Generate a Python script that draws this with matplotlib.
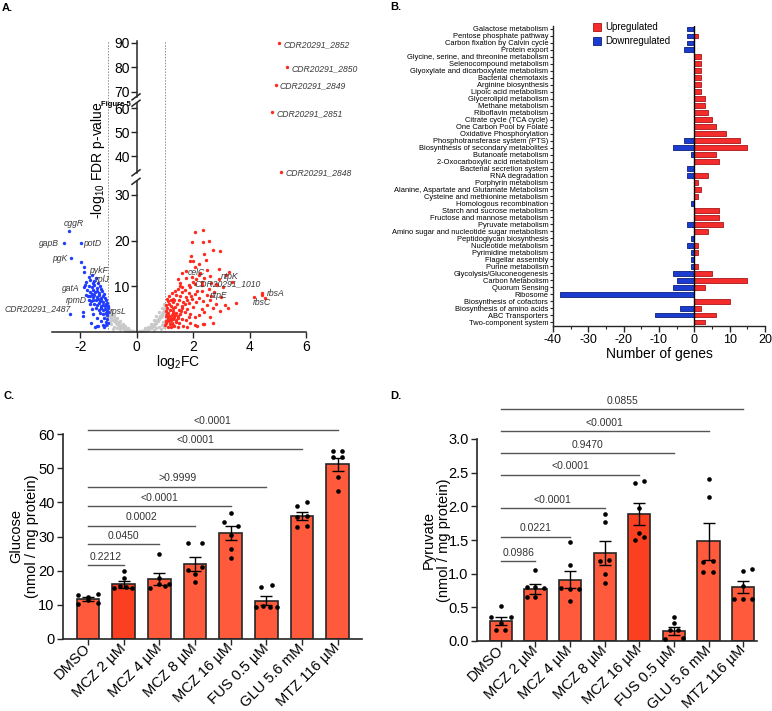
import matplotlib
matplotlib.use('Agg')
import matplotlib.pyplot as plt
from matplotlib import font_manager
from matplotlib.lines import Line2D
from matplotlib.patches import Rectangle
from matplotlib.ticker import MultipleLocator
import numpy as np

# ---------------- DATA ----------------
# Panel A: volcano plot (log2FC, -log10 FDR)
gray_pts = [(-1.08,5.8),(-1.05,4.9),(-1.0,5.5),(-0.98,4.2),(-0.95,3.6),(-0.93,4.8),(-0.9,3.1),(-0.88,4.0),
            (-0.85,2.7),(-0.83,3.5),(-0.8,2.4),(-0.78,3.0),(-0.75,2.0),(-0.72,2.6),(-0.7,1.7),(-0.68,2.2),
            (-0.65,1.5),(-0.62,1.9),(-0.6,1.2),(-0.57,1.5),(-0.55,1.0),(-0.52,1.3),(-0.5,0.8),(-0.47,1.0),
            (-0.45,0.6),(-0.42,0.8),(-0.4,0.5),(-0.37,0.6),(-0.35,0.4),(-0.32,0.45),(-0.3,0.3),(-0.27,0.35),
            (-0.25,0.2),(-0.22,0.25),(-0.2,0.15),(-0.17,0.18),(-0.15,0.1),(-0.12,0.12),(-0.1,0.06),(-0.07,0.08),
            (-0.05,0.03),(-0.02,0.04),(0.0,0.02),(0.03,0.04),(0.05,0.05),(0.08,0.1),(0.1,0.08),(0.13,0.15),
            (0.15,0.12),(0.18,0.22),(0.2,0.18),(0.23,0.3),(0.25,0.25),(0.28,0.4),(0.3,0.35),(0.33,0.5),
            (0.35,0.45),(0.38,0.65),(0.4,0.6),(0.43,0.85),(0.45,0.75),(0.48,1.05),(0.5,0.95),(0.53,1.3),
            (0.55,1.15),(0.58,1.55),(0.6,1.4),(0.63,1.85),(0.65,1.7),(0.68,2.2),(0.7,2.0),(0.73,2.6),
            (0.75,2.4),(0.78,3.0),(0.8,2.8),(0.83,3.4),(0.85,3.2),(0.88,3.9),(0.9,3.6),(0.93,4.4),
            (0.95,4.1),(0.98,5.0),(1.0,4.6),(1.02,5.6),(0.97,6.2),(0.9,5.3),(0.8,4.4),(0.7,3.5),
            (0.6,2.6),(0.5,1.8),(0.4,1.2),(0.3,0.8),(-0.3,0.9),(-0.4,1.3),(-0.5,1.8),(-0.6,2.4),
            (-0.7,3.0),(-0.8,3.8),(-0.9,4.5),(-1.0,6.3),(0.6,0.5),(0.8,1.0),(0.9,1.5),(0.95,2.2),
            (-0.6,0.6),(-0.8,1.2),(-0.9,1.8),(-0.95,2.5),(0.85,0.6),(0.7,0.8),(-0.7,0.9),(-0.85,0.7),
            (-1.1,3.4),(-1.12,4.1),(-1.06,2.9),(1.04,3.1),(1.01,2.4),(0.96,1.1)]

down_pts = [(-2.41,22.2),(-2.59,19.4),(-1.99,19.4),(-2.31,16.1),(-1.99,15.4),(-1.87,14.2),(-1.85,13.2),
            (-1.64,11.4),(-1.88,9.9),(-1.72,7.8),(-2.35,3.9),(-1.02,4.4),(-1.9,4.3),(-1.89,3.4),
            (-1.48,1.2),(-1.42,1.4),(-1.37,1.3),(-1.2,1.5),(-1.15,1.2),(-1.08,1.6),(-1.62,2.0),
            (-1.70,12.1),(-1.58,12.4),(-1.45,11.9),(-1.78,11.0),(-1.55,10.8),(-1.50,11.2),(-1.38,10.7),
            (-1.82,10.2),(-1.70,10.1),(-1.60,9.8),(-1.52,10.3),(-1.42,9.7),(-1.30,10.0),(-1.25,9.4),
            (-1.75,9.1),(-1.65,8.8),(-1.55,9.2),(-1.48,8.7),(-1.40,9.0),(-1.32,8.6),(-1.22,8.9),(-1.15,8.3),
            (-1.80,8.2),(-1.66,7.9),(-1.60,8.4),(-1.55,7.7),(-1.50,8.1),(-1.42,7.6),(-1.35,8.0),(-1.28,7.5),
            (-1.20,7.9),(-1.12,7.4),(-1.68,7.0),(-1.62,6.8),(-1.55,7.1),(-1.45,6.9),(-1.38,7.2),(-1.30,6.7),
            (-1.25,7.0),(-1.18,6.6),(-1.10,6.9),(-1.05,6.4),(-1.65,6.1),(-1.50,6.2),(-1.40,5.9),(-1.33,6.3),
            (-1.27,5.8),(-1.20,6.0),(-1.13,5.7),(-1.08,6.1),(-1.03,5.6),(-1.60,5.1),(-1.45,5.3),(-1.35,4.9),
            (-1.25,5.2),(-1.18,4.8),(-1.12,5.0),(-1.06,4.7),(-1.02,5.2),(-1.55,4.0),(-1.30,4.2),(-1.20,3.9),
            (-1.10,4.1),(-1.04,3.7),(-1.40,3.1),(-1.15,3.0),(-1.05,2.8),(-1.10,2.2),(-1.03,1.9),(-1.28,2.5)]

up_pts = [(2.08,21.9),(2.34,22.3),(1.95,19.8),(2.34,19.6),(2.57,20.0),(2.69,17.9),(2.94,17.8),(1.92,16.6),
          (1.88,15.6),(1.98,15.5),(2.40,17.1),(2.46,15.8),(2.20,14.8),(2.05,14.2),(1.75,13.3),(1.62,13.0),
          (2.25,13.0),(2.50,13.5),(2.90,13.7),(3.28,13.2),(3.15,12.5),(2.60,12.2),(2.40,11.8),(2.10,11.5),
          (2.00,11.0),(2.90,11.5),(3.38,11.0),(2.80,10.5),(3.07,9.9),(2.30,10.2),(1.85,10.4),(1.75,11.8),
          (1.55,10.8),(1.48,11.5),(2.50,8.0),(4.45,8.6),(4.45,8.1),(4.17,7.6),(4.53,7.4),(3.52,6.4),
          (3.13,5.9),(2.48,5.9),(1.90,9.8),(1.70,9.3),(1.45,9.5),(1.35,9.0),(1.60,8.8),(1.85,8.5),
          (2.15,8.9),(2.65,7.8),(3.00,7.6),(2.20,7.5),(1.95,7.2),(1.75,7.6),(1.55,7.9),(1.40,8.2),
          (1.25,8.5),(1.15,7.8),(1.30,7.3),(1.50,7.0),(1.65,6.6),(1.85,6.3),(2.10,6.5),(2.70,5.3),
          (2.30,5.0),(2.00,5.5),(1.80,5.0),(1.60,5.8),(1.42,6.2),(1.28,6.5),(1.12,6.8),(1.05,6.0),
          (1.20,5.8),(1.35,5.4),(1.50,4.8),(1.70,4.4),(1.90,4.0),(2.20,3.8),(2.60,3.3),(1.08,5.2),
          (1.18,4.9),(1.30,4.6),(1.40,4.2),(1.55,3.9),(1.25,3.8),(1.12,4.2),(1.03,4.5),(1.03,3.5),
          (1.10,3.2),(1.20,3.0),(1.32,3.3),(1.45,3.0),(1.60,2.8),(1.75,2.6),(1.05,2.5),(1.15,2.3),
          (1.25,2.0),(1.38,2.2),(1.50,1.9),(1.02,1.5),(1.10,1.2),(1.20,1.0),(1.32,1.4),(1.45,1.1),
          (1.65,1.4),(1.80,1.2),(2.05,1.5),(2.15,1.3),(2.35,1.7),(2.40,1.8),(1.90,2.0),(2.70,2.0),
          (1.08,7.3),(1.14,6.2),(1.22,7.0),(1.27,5.3),(1.34,6.9),(1.06,3.9),(1.16,3.6),(1.28,4.2),
          (1.36,3.8),(1.12,2.8),(1.22,2.6),(1.30,2.9),(1.04,2.0),(1.18,1.7),(1.27,1.5),(1.40,2.6),
          (1.48,3.5),(1.58,4.5),(1.62,5.3),(1.72,6.1),(1.78,7.0),(1.92,7.9),(2.05,8.3),(2.30,9.0),
          (2.55,9.5),(2.75,8.7),(2.35,6.8),(2.60,6.9),(2.80,6.2),(2.95,4.5),(2.40,4.3),(2.05,3.2),
          (1.85,3.3),(3.25,5.2),(2.85,10.2),(2.62,10.8),(2.20,12.5),(1.95,12.0),(1.62,9.8),(1.52,10.0),
          (2.08,10.6),(2.30,11.0)]

top_genes = ['CDR20291_2852', 'CDR20291_2850', 'CDR20291_2849', 'CDR20291_2851', 'CDR20291_2848']
top_fc = [5.05, 5.34, 4.92, 4.79, 5.12]
top_p = [89.8, 80.0, 72.9, 58.3, 33.4]

# labelled genes in the lower part: (name, log2FC, -log10 p, dx px, dy px, ha)
gene_labels = [('cggR', -2.41, 22.2, -5, 7, 'left'), ('gapB', -2.59, 19.4, -5, 0, 'right'),
               ('potD', -1.99, 19.4, 3, 0, 'left'), ('pgK', -2.31, 16.1, -4, 0, 'right'),
               ('pykF', -1.85, 13.2, 5, 1, 'left'), ('rplJ', -1.64, 11.4, 5, 0, 'left'),
               ('gatA', -1.88, 9.9, -4, -2, 'right'), ('rpmD', -1.72, 7.8, -1, -4, 'right'),
               ('CDR20291_2487', -2.35, 3.9, 0, 5, 'right'), ('rpsL', -1.02, 4.4, 2, 0, 'left'),
               ('celC', 1.75, 13.3, 2, -1, 'left'), ('ntpK', 2.90, 13.7, 2, -7, 'left'),
               ('CDR20291_1010', 2.00, 11.0, 1, -2, 'left'), ('ntpE', 2.50, 8.0, 3, 0, 'left'),
               ('rbsA', 4.45, 8.6, 5, -1, 'left'), ('rbsC', 4.17, 7.6, -1, -5, 'left')]

# Panel B: KEGG pathways
pathways = ['Galactose metabolism', 'Pentose phosphate pathway', 'Carbon fixation by Calvin cycle',
            'Protein export', 'Glycine, serine, and threonine metabolism', 'Selenocompound metabolism',
            'Glyoxylate and dicarboxylate metabolism', 'Bacterial chemotaxis', 'Arginine biosynthesis',
            'Lipoic acid metabolism', 'Glycerolipid metabolism', 'Methane metabolism',
            'Riboflavin metabolism', 'Citrate cycle (TCA cycle)', 'One Carbon Pool by Folate',
            'Oxidative Phosphorylation', 'Phosphotransferase system (PTS)',
            'Biosynthesis of secondary metabolites', 'Butanoate metabolism',
            '2-Oxocarboxylic acid metabolism', 'Bacterial secretion system', 'RNA degradation',
            'Porphyrin metabolism', 'Alanine, Aspartate and Glutamate Metabolism',
            'Cysteine and methionine metabolism', 'Homologous recombination',
            'Starch and sucrose metabolism', 'Fructose and mannose metabolism', 'Pyruvate metabolism',
            'Amino sugar and nucleotide sugar metabolism', 'Peptidoglycan biosynthesis',
            'Nucleotide metabolism', 'Pyrimidine metabolism', 'Flagellar assembly', 'Purine metabolism',
            'Glycolysis/Gluconeogenesis', 'Carbon Metabolism', 'Quorum Sensing', 'Ribosome',
            'Biosynthesis of cofactors', 'Biosynthesis of amino acids', 'ABC Transporters',
            'Two-component system']
up_genes = [0, 1, 0, 0, 2, 2, 2, 2, 2, 2, 3, 3, 4, 5, 6, 9, 13, 15, 6, 7, 0, 4, 1, 2, 1, 0,
            7, 7, 8, 4, 0, 1, 1, 0, 1, 5, 15, 3, 0, 10, 2, 6, 3]
down_genes = [-2, -2, -2, -3, 0, 0, 0, 0, 0, 0, 0, 0, 0, 0, 0, 0, -3, -6, -1, 0, -2, -2, 0, 0, 0, -1,
              0, 0, -2, 0, -1, -2, -1, -1, -1, -6, -5, -6, -38, 0, -4, -11, 0]

# Panels C & D
treatments = ['DMSO', 'MCZ 2 µM', 'MCZ 4 µM', 'MCZ 8 µM', 'MCZ 16 µM', 'FUS 0.5 µM', 'GLU 5.6 mM', 'MTZ 116 µM']
glucose_mean = [11.7, 16.0, 17.5, 21.9, 31.0, 11.2, 35.9, 51.1]
glucose_sem = [0.5, 1.0, 1.8, 2.0, 2.0, 1.3, 1.2, 1.8]
glucose_pts = [[13.0, 12.3, 13.3, 10.2, 11.4, 10.6],
               [19.9, 18.0, 14.9, 15.4, 15.2, 14.9],
               [24.8, 17.9, 14.8, 16.0, 15.5, 16.1],
               [28.0, 28.0, 21.0, 20.1, 18.9, 16.8],
               [36.8, 34.2, 33.2, 30.5, 26.2, 23.6],
               [15.3, 15.7, 9.3, 9.7, 9.5, 9.5],
               [38.9, 40.0, 35.7, 35.9, 32.7, 33.0],
               [55.1, 55.1, 53.2, 53.2, 47.3, 43.4]]
glucose_p = ['0.2212', '0.0450', '0.0002', '<0.0001', '>0.9999', '<0.0001', '<0.0001']
glucose_bracket_y = [21.6, 27.7, 33.2, 38.8, 44.6, 55.7, 61.2]

pyruvate_mean = [0.30, 0.77, 0.91, 1.31, 1.89, 0.15, 1.48, 0.80]
pyruvate_sem = [0.06, 0.07, 0.13, 0.18, 0.16, 0.06, 0.27, 0.09]
pyruvate_pts = [[0.52, 0.36, 0.35, 0.26, 0.17, 0.16],
                [1.05, 0.80, 0.80, 0.79, 0.66, 0.66],
                [1.47, 1.13, 0.78, 0.77, 0.77, 0.59],
                [1.89, 1.77, 1.19, 1.20, 0.99, 0.86],
                [2.34, 2.38, 1.97, 1.60, 1.50, 1.54],
                [0.35, 0.27, 0.17, 0.17, 0.03, 0.04],
                [2.41, 2.14, 1.18, 1.19, 1.02, 1.02],
                [1.04, 1.07, 0.81, 0.63, 0.63, 0.63]]
pyruvate_p = ['0.0986', '0.0221', '<0.0001', '<0.0001', '0.9470', '<0.0001', '0.0855']
pyruvate_bracket_y = [1.19, 1.55, 1.97, 2.47, 2.79, 3.12, 3.44]

# dot horizontal spread (layout only)
glucose_jit = [[-0.27, 0, 0.27, -0.27, 0, 0.27], [0, 0, -0.27, -0.1, 0.06, 0.22],
               [0, 0, -0.25, 0, 0.15, 0.28], [-0.2, 0.2, 0.2, -0.2, 0, 0],
               [0, -0.2, 0.2, 0, 0, 0], [-0.15, 0.15, -0.3, -0.1, 0.1, 0.3],
               [-0.15, 0.15, -0.15, 0.15, -0.15, 0.15], [-0.13, 0.13, -0.13, 0.13, 0, 0]]
pyruvate_jit = [[0, -0.29, 0.29, 0, -0.15, 0.13], [0, -0.25, 0, 0.25, -0.25, 0],
                [0, 0, -0.27, 0, 0.27, 0], [0, 0, -0.13, 0.13, 0, 0],
                [-0.13, 0.13, 0, 0, -0.13, 0.13], [0, 0, -0.12, 0.12, -0.26, 0.27],
                [0, 0, -0.15, 0.12, -0.15, 0.12], [0, 0.26, 0, -0.26, 0, 0.26]]

# ---------------- STYLE ----------------
W, H = 772, 711
plt.rcParams['font.family'] = ['Liberation Sans', 'DejaVu Sans']
plt.rcParams['axes.unicode_minus'] = False
plt.rcParams['mathtext.fontset'] = 'custom'
plt.rcParams['mathtext.rm'] = 'Liberation Sans'
plt.rcParams['mathtext.it'] = 'Liberation Sans:italic'
names = {f.name for f in font_manager.fontManager.ttflist}
NARROW = 'Liberation Sans Narrow' if 'Liberation Sans Narrow' in names else 'Liberation Sans'
AX = '#262626'

fig = plt.figure(figsize=(W / 100, H / 100), dpi=100)


def px_axes(x0, y0, x1, y1):
    return fig.add_axes([x0 / W, 1 - y1 / H, (x1 - x0) / W, (y1 - y0) / H])


def fig_line(x0, y0, x1, y1, **kw):
    fig.add_artist(Line2D([x0 / W, x1 / W], [1 - y0 / H, 1 - y1 / H], transform=fig.transFigure, **kw))


# ---------------- PANEL A ----------------
overlay = px_axes(52, 40.5, 306, 332)
overlay.set_xlim(-3, 6)
overlay.set_ylim(0, 1)
overlay.axis('off')
overlay.set_zorder(0)
for xv in (-1, 1):
    overlay.axvline(xv, color='#8c8c8c', lw=0.7, ls=(0, (1.5, 1.5)))

segments = [(40.5, 96.9, 68, 91, [70, 80, 90]), (103.2, 172.8, 33, 62, [40, 50, 60]),
            (181.3, 332, 0, 33, [10, 20, 30])]
axesA = []
for i, (p0, p1, lo, hi, ticks) in enumerate(segments):
    ax = px_axes(52, p0, 306, p1)
    ax.set_zorder(1)
    ax.patch.set_alpha(0)
    ax.set_xlim(-3, 6)
    ax.set_ylim(lo, hi)
    ax.spines['left'].set_position(('data', 0))
    ax.spines[['right', 'top']].set_visible(False)
    for s in ax.spines.values():
        s.set_color(AX)
        s.set_linewidth(1.1)
    ax.set_yticks(ticks)
    ax.tick_params(axis='y', length=4, width=1, labelsize=10, pad=1, color=AX)
    if i < 2:
        ax.spines['bottom'].set_visible(False)
        ax.tick_params(axis='x', bottom=False, labelbottom=False)
    else:
        ax.set_xticks([-2, 0, 2, 4, 6])
        ax.tick_params(axis='x', length=4, width=1, labelsize=10, pad=2, color=AX)
    axesA.append(ax)

axA = axesA[2]
gx, gy = zip(*gray_pts)
axA.scatter(gx, gy, s=6, color='#c9c9c9', linewidths=0, zorder=2)
dx_, dy_ = zip(*down_pts)
axA.scatter(dx_, dy_, s=6, color='#1f3cff', linewidths=0, zorder=3)
ux, uy = zip(*up_pts)
axA.scatter(ux, uy, s=6, color='#ff2a1f', linewidths=0, zorder=3)

LBL = 6.2
for name, fx, fy, ddx, ddy, ha in gene_labels:
    axA.annotate(name, (fx, fy), xytext=(ddx * 0.72, ddy * 0.72), textcoords='offset points',
                 ha=ha, va='center', fontsize=LBL, style='italic', color='#3a3a3a')

for name, fx, fy in zip(top_genes, top_fc, top_p):
    for ax, (p0, p1, lo, hi, t) in zip(axesA, segments):
        if lo - 1 <= fy <= hi:
            ax.scatter([fx], [fy], s=6, color='#ff2a1f', linewidths=0, clip_on=False, zorder=3)
            ax.annotate(name, (fx, fy), xytext=(3, -1), textcoords='offset points', ha='left',
                        va='center', fontsize=LBL, style='italic', color='#3a3a3a')

# axis break marks on the y axis
for yb in (96.9, 103.2, 172.8, 181.3):
    fig_line(132, yb + 3, 140, yb - 3, color=AX, lw=1.1)

fig.text(98 / W, 1 - 160 / H, r'-log$_{10}$ FDR p-value', rotation=90, ha='center', va='center', fontsize=10)
fig.text(178 / W, 1 - 362 / H, r'log$_2$FC', ha='center', va='center', fontsize=10)
fig.text(101 / W, 1 - 104 / H, 'Figure 5', ha='left', va='center', fontsize=5.5, weight='bold')

# ---------------- PANEL B ----------------
axB = px_axes(553, 25.5, 765, 325.5)
yy = np.arange(len(pathways))
up_arr = np.array(up_genes)
dn_arr = np.array(down_genes)
mu = up_arr != 0
md = dn_arr != 0
axB.barh(yy[mu], up_arr[mu], height=0.7, color='#f42c2c', edgecolor='#a81616', linewidth=0.6, zorder=2)
axB.barh(yy[md], dn_arr[md], height=0.7, color='#1a3ccf', edgecolor='#0d1f7a', linewidth=0.6, zorder=2)
axB.axvline(0, color='black', lw=1.0, zorder=3)
axB.set_ylim(len(pathways) - 0.5, -0.5)
axB.set_xlim(-40, 20)
axB.set_yticks(yy)
axB.set_yticklabels(pathways, fontfamily=NARROW, fontsize=5.4)
axB.set_xticks(range(-40, 21, 10))
axB.xaxis.set_minor_locator(MultipleLocator(5))
axB.spines[['right', 'top']].set_visible(False)
for s in axB.spines.values():
    s.set_color(AX)
    s.set_linewidth(1)
axB.tick_params(axis='y', length=2.5, width=0.8, pad=1, color=AX)
axB.tick_params(axis='x', which='major', length=4, width=1, labelsize=9, pad=2, color=AX)
axB.tick_params(axis='x', which='minor', length=2.5, width=0.8, color=AX)
for lab in axB.get_xticklabels():
    lab.set_fontfamily(NARROW)
axB.set_xlabel('Number of genes', fontsize=10, fontfamily=NARROW, labelpad=1)

for yc, col, ec, txt in [(27, '#f42c2c', '#a81616', 'Upregulated'), (41, '#1a3ccf', '#0d1f7a', 'Downregulated')]:
    fig.add_artist(Rectangle((593 / W, 1 - (yc + 4) / H), 8 / W, 8 / H, transform=fig.transFigure,
                             facecolor=col, edgecolor=ec, lw=0.6))
    fig.text(605 / W, 1 - yc / H, txt, ha='left', va='center', fontsize=7, fontfamily=NARROW)

# ---------------- PANELS C & D ----------------
BAR = '#ff5a3c'


def bar_panel(ax, means, sems, pts, jit, pvals, by, ylim, yticks, fmt, hi_idx, dy_txt):
    x = np.arange(len(treatments))
    cols = [BAR] * len(treatments)
    cols[hi_idx] = '#fa4020'
    ax.bar(x, means, width=0.64, color=cols, edgecolor=AX, linewidth=1.2, zorder=2)
    ax.errorbar(x, means, yerr=sems, fmt='none', ecolor='black', elinewidth=1, capsize=4,
                capthick=1, zorder=3)
    for i in range(len(treatments)):
        ax.scatter(x[i] + np.array(jit[i]), pts[i], s=11, color='black', linewidths=0, zorder=4,
                   clip_on=False)
    ax.set_ylim(*ylim)
    ax.set_yticks(yticks)
    ax.set_yticklabels([fmt.format(v) for v in yticks])
    ax.set_xticks(x)
    ax.set_xticklabels(treatments, rotation=45, ha='right', va='center', rotation_mode='anchor')
    ax.spines[['right', 'top']].set_visible(False)
    for s in ax.spines.values():
        s.set_color(AX)
        s.set_linewidth(1.2)
    ax.tick_params(axis='both', length=4, width=1, labelsize=10.5, color=AX)
    ax.tick_params(axis='x', pad=1)
    ax.tick_params(axis='y', pad=2)
    for j, (pv, yv) in enumerate(zip(pvals, by)):
        ax.plot([0, j + 1], [yv, yv], color='#555555', lw=1, clip_on=False, zorder=1)
        ax.text((j + 1) / 2, yv + dy_txt, pv, ha='center', va='bottom', fontsize=7.5, color='#333333',
                clip_on=False)


axC = px_axes(63, 434, 362, 639)
bar_panel(axC, glucose_mean, glucose_sem, glucose_pts, glucose_jit, glucose_p, glucose_bracket_y,
          (0, 60), [0, 10, 20, 30, 40, 50, 60], '{:.0f}', 1, 1.0)
axC.set_xlim(-0.70, 7.68)
fig.text(24 / W, 1 - 536 / H, 'Glucose\n(nmol / mg protein)', rotation=90, ha='center', va='center',
         fontsize=10.5, multialignment='center', linespacing=1.1)

axD = px_axes(477, 439, 757, 641)
bar_panel(axD, pyruvate_mean, pyruvate_sem, pyruvate_pts, pyruvate_jit, pyruvate_p, pyruvate_bracket_y,
          (0, 3.0), [0.0, 0.5, 1.0, 1.5, 2.0, 2.5, 3.0], '{:.1f}', 4, 0.05)
axD.set_xlim(-0.69, 7.40)
fig.text(436 / W, 1 - 540 / H, 'Pyruvate\n(nmol / mg protein)', rotation=90, ha='center', va='center',
         fontsize=10.5, multialignment='center', linespacing=1.1)

# panel letters
for lx, ly, t in [(2, 8, 'A.'), (390, 7, 'B.'), (3, 396, 'C.'), (390, 396, 'D.')]:
    fig.text(lx / W, 1 - ly / H, t, ha='left', va='center', fontsize=8, weight='bold')

fig.savefig('out.png', dpi=100)
